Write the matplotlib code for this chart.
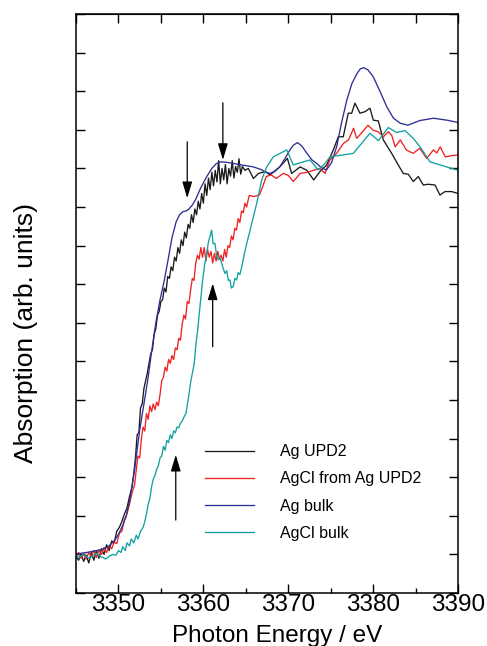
import numpy as np
import matplotlib
matplotlib.use('Agg')
import matplotlib.pyplot as plt
from matplotlib.ticker import MultipleLocator

plt.rcParams['font.family'] = ['Liberation Sans', 'DejaVu Sans']

# Ag UPD2 (black)
ag_upd2_e = [3345.0, 3345.3, 3345.6, 3345.9, 3346.2, 3346.5, 3346.8, 3347.1, 3347.4, 3347.7,
             3348.0, 3348.3, 3348.6, 3348.9, 3349.2, 3349.5, 3349.8, 3350.1, 3350.4, 3350.7,
             3351.0, 3351.3, 3351.6, 3351.8, 3352.0, 3352.2, 3352.4, 3352.6, 3352.8, 3353.0,
             3353.2, 3353.4, 3353.6, 3353.8, 3354.0, 3354.2, 3354.4, 3354.6, 3354.8, 3355.0,
             3355.2, 3355.4, 3355.6, 3355.8, 3356.0, 3356.2, 3356.4, 3356.6, 3356.8, 3357.0,
             3357.2, 3357.4, 3357.6, 3357.8, 3358.0, 3358.2, 3358.4, 3358.6, 3358.8, 3359.0,
             3359.2, 3359.4, 3359.6, 3359.8, 3360.0, 3360.2, 3360.4, 3360.6, 3360.8, 3361.0,
             3361.2, 3361.4, 3361.6, 3361.8, 3362.0, 3362.2, 3362.4, 3362.6, 3362.8, 3363.0,
             3363.2, 3363.4, 3363.6, 3363.8, 3364.0, 3364.2, 3364.4, 3364.6, 3364.9, 3365.3,
             3365.9, 3366.5, 3367.3, 3367.85, 3369.0, 3369.9, 3370.4, 3371.4, 3372.2, 3373.0,
             3373.74, 3374.53, 3375.31, 3375.9, 3376.48, 3377.07, 3377.47, 3377.86, 3378.45, 3379.04,
             3379.63, 3380.02, 3380.61, 3381.2, 3382.18, 3382.96, 3383.55, 3384.14, 3384.73, 3385.32,
             3385.91, 3386.5, 3387.29, 3387.87, 3388.46, 3389.25, 3390.0]
ag_upd2_y = [0.95, 0.85, 1.0, 0.82, 0.98, 0.78, 1.05, 0.85, 1.1, 0.9,
             1.15, 1.0, 1.25, 1.1, 1.35, 1.3, 1.6, 1.7, 1.85, 2.05,
             2.2, 2.5, 2.75, 3.1, 3.5, 4.1, 4.15, 4.8, 4.9, 5.3,
             5.5, 5.7, 5.95, 6.2, 6.3, 6.7, 6.85, 7.2, 7.3, 7.55,
             7.6, 7.9, 7.8, 8.2, 8.15, 8.45, 8.35, 8.7, 8.6, 8.95,
             8.8, 9.15, 9.0, 9.35, 9.2, 9.55, 9.45, 9.8, 9.6, 9.95,
             9.8, 10.15, 9.95, 10.35, 10.1, 10.6, 10.3, 10.75, 10.45, 10.9,
             10.55, 10.95, 10.65, 11.2, 10.6, 11.0, 10.7, 11.1, 10.6, 11.0,
             10.8, 11.2, 10.75, 11.05, 10.9, 11.25, 10.85, 11.05, 10.95, 11.0,
             10.74, 10.87, 10.92, 10.83, 11.04, 11.26, 10.87, 11.04, 10.95, 10.70,
             10.92, 11.09, 11.48, 11.82, 11.82, 12.43, 12.43, 12.69, 12.43, 12.47,
             12.56, 12.25, 12.23, 11.74, 11.39, 11.09, 10.87, 10.85, 10.66, 10.79,
             10.57, 10.59, 10.57, 10.31, 10.40, 10.40, 10.35]

# AgCl from Ag UPD2 (red)
agcl_upd2_e = [3345.0, 3345.3, 3345.6, 3345.9, 3346.2, 3346.5, 3346.8, 3347.1, 3347.4, 3347.7,
               3348.0, 3348.3, 3348.6, 3348.9, 3349.2, 3349.5, 3349.8, 3350.1, 3350.4, 3350.7,
               3351.0, 3351.3, 3351.6, 3351.9, 3352.1, 3352.3, 3352.5, 3352.7, 3352.9, 3353.1,
               3353.3, 3353.5, 3353.7, 3353.9, 3354.1, 3354.3, 3354.5, 3354.7, 3354.9, 3355.1,
               3355.3, 3355.5, 3355.7, 3355.9, 3356.1, 3356.3, 3356.5, 3356.7, 3356.9, 3357.1,
               3357.3, 3357.5, 3357.7, 3357.9, 3358.1, 3358.3, 3358.5, 3358.7, 3358.9, 3359.1,
               3359.3, 3359.5, 3359.7, 3359.9, 3360.1, 3360.3, 3360.5, 3360.7, 3360.9, 3361.1,
               3361.3, 3361.5, 3361.7, 3361.9, 3362.1, 3362.3, 3362.5, 3362.7, 3362.9, 3363.1,
               3363.3, 3363.5, 3363.7, 3363.9, 3364.1, 3364.3, 3364.5, 3364.7, 3364.9, 3365.1,
               3365.4, 3365.9, 3366.6, 3367.0, 3367.4, 3368.0, 3368.6, 3369.4, 3370.0, 3370.6,
               3371.4, 3372.2, 3373.1, 3373.74, 3374.33, 3374.9, 3375.7, 3376.5, 3377.1, 3377.7,
               3378.06, 3378.6, 3379.4, 3380.0, 3380.6, 3381.2, 3381.8, 3382.2, 3382.6, 3383.2,
               3383.9, 3384.7, 3385.5, 3386.3, 3387.1, 3387.5, 3387.9, 3388.5, 3389.2, 3390.0]
agcl_upd2_y = [0.98, 1.05, 0.9, 1.02, 0.88, 1.05, 0.95, 1.1, 0.92, 1.12,
               1.0, 1.18, 1.05, 1.22, 1.15, 1.32, 1.28, 1.55, 1.6, 1.9,
               2.05, 2.3, 2.6, 2.8, 3.2, 3.55, 3.5, 4.0, 4.3, 4.2,
               4.65, 4.5, 4.85, 4.7, 4.9, 4.75, 4.95, 4.85, 5.15, 5.5,
               5.6, 5.85, 5.75, 6.05, 5.95, 6.15, 6.05, 6.35, 6.3, 6.6,
               6.55, 6.95, 7.2, 7.1, 7.55, 7.5, 7.85, 8.15, 8.1, 8.55,
               8.75, 8.65, 8.95, 8.7, 8.95, 8.6, 8.9, 8.7, 8.85, 8.55,
               8.8, 8.6, 8.85, 8.65, 8.75, 8.6, 8.9, 8.7, 9.0, 8.95,
               9.25, 9.15, 9.45, 9.4, 9.7, 9.6, 9.9, 9.85, 10.1, 10.0,
               10.3, 10.27, 10.31, 10.53, 10.79, 10.83, 10.74, 10.87, 10.82, 10.66,
               10.87, 10.9, 10.96, 11.0, 10.87, 11.22, 11.39, 11.65, 11.74, 12.04,
               11.78, 11.91, 12.12, 11.99, 11.95, 11.82, 11.95, 11.85, 11.56, 11.74,
               11.48, 11.39, 11.52, 11.26, 11.48, 11.40, 11.56, 11.30, 11.33, 11.35]

# Ag bulk (blue)
ag_bulk_e = [3345.0, 3346.5, 3347.9, 3348.8, 3349.5, 3350.0, 3350.5, 3350.9, 3351.4, 3351.9,
             3352.5, 3353.0, 3353.45, 3353.9, 3354.4, 3354.9, 3355.4, 3355.9, 3356.3, 3356.8,
             3357.2, 3357.6, 3358.0, 3358.3, 3358.7, 3359.1, 3359.7, 3360.4, 3361.0, 3361.5,
             3362.0, 3362.7, 3363.5, 3364.5, 3365.9, 3366.8, 3367.4, 3367.85, 3368.4, 3369.0,
             3369.6, 3370.2, 3370.6, 3371.1, 3371.6, 3372.2, 3372.8, 3373.35, 3373.9, 3374.5,
             3375.1, 3375.7, 3376.3, 3376.9, 3377.5, 3378.1, 3378.5, 3378.9, 3379.4, 3380.0,
             3380.8, 3381.6, 3382.4, 3383.2, 3384.1, 3385.5, 3387.1, 3388.7, 3390.0]
ag_bulk_y = [1.01, 1.06, 1.12, 1.2, 1.35, 1.52, 1.75, 1.98, 2.5, 3.19,
             4.22, 4.9, 5.52, 6.25, 7.0, 7.6, 8.1, 8.7, 9.2, 9.62,
             9.8, 9.88, 9.9, 9.95, 10.05, 10.2, 10.5, 10.79, 11.0, 11.12,
             11.17, 11.16, 11.13, 11.09, 11.04, 10.97, 10.9, 10.87, 10.92, 11.04,
             11.25, 11.48, 11.6, 11.67, 11.58, 11.39, 11.22, 11.13, 11.02, 10.96,
             11.15, 11.56, 12.2, 12.77, 13.2, 13.46, 13.58, 13.61, 13.55, 13.38,
             13.0, 12.6, 12.3, 12.17, 12.12, 12.24, 12.30, 12.25, 12.19]

# AgCl bulk (teal)
agcl_bulk_e = [3345.0, 3345.4, 3345.8, 3346.2, 3346.6, 3347.0, 3347.4, 3347.8, 3348.2, 3348.5,
               3348.9, 3349.3, 3349.7, 3350.0, 3350.3, 3350.5, 3350.8, 3351.0, 3351.3, 3351.5,
               3351.8, 3352.1, 3352.3, 3352.6, 3352.9, 3353.1, 3353.3, 3353.5, 3353.7, 3353.9,
               3354.1, 3354.3, 3354.5, 3354.7, 3354.9, 3355.1, 3355.3, 3355.5, 3355.7, 3355.9,
               3356.1, 3356.3, 3356.5, 3356.7, 3356.9, 3357.1, 3357.3, 3357.5, 3357.7, 3357.96,
               3358.2, 3358.55, 3358.93, 3359.15, 3359.33, 3359.6, 3359.92, 3360.15, 3360.39, 3360.6,
               3360.8, 3360.98, 3361.15, 3361.37, 3361.55, 3361.76, 3361.95, 3362.16, 3362.35, 3362.55,
               3362.75, 3362.95, 3363.14, 3363.3, 3363.53, 3363.7, 3363.93, 3364.1, 3364.3, 3364.52,
               3364.8, 3365.11, 3365.4, 3365.69, 3366.28, 3366.87, 3367.46, 3368.24, 3369.03, 3369.82,
               3370.6, 3371.77, 3372.56, 3373.54, 3374.33, 3374.92, 3377.66, 3379.63, 3380.61, 3381.79,
               3382.77, 3383.75, 3384.73, 3385.52, 3386.7, 3390.0]
agcl_bulk_y = [0.98, 0.92, 1.0, 0.95, 0.9, 0.97, 1.03, 0.95, 0.92, 0.88,
               0.95, 1.0, 0.98, 1.1, 1.05, 1.2, 1.1, 1.3, 1.22, 1.4,
               1.3, 1.5, 1.4, 1.6, 1.7, 1.85, 2.05, 2.3, 2.45, 2.75,
               2.95, 3.05, 3.2, 3.3, 3.5, 3.55, 3.8, 3.7, 3.95, 3.9,
               4.1, 4.0, 4.2, 4.15, 4.3, 4.28, 4.4, 4.45, 4.55, 4.66,
               5.0, 5.52, 5.95, 6.5, 6.81, 7.42, 8.11, 8.5, 8.8, 9.1,
               9.25, 9.4, 9.05, 9.06, 8.75, 8.63, 8.7, 8.54, 8.4, 8.28,
               8.35, 8.1, 8.11, 7.9, 7.94, 8.15, 8.11, 8.3, 8.25, 8.45,
               8.75, 9.06, 9.3, 9.57, 10.09, 10.70, 11.04, 11.30, 11.39, 11.48,
               11.09, 11.17, 11.22, 10.96, 11.13, 11.30, 11.39, 11.91, 11.72, 12.06,
               11.93, 11.98, 11.78, 11.56, 11.17, 10.95]

labels = ['Ag UPD2', 'AgCl from Ag UPD2', 'Ag bulk', 'AgCl bulk']
colors = ['#1a1a1a', '#ee2222', '#2e2e96', '#13a0a0']

# arrows: (energy, tail, tip)
arrows = [(3358.1, 11.69, 10.23),
          (3362.3, 12.70, 11.22),
          (3361.1, 6.38, 8.02),
          (3356.75, 1.89, 3.58)]

fig = plt.figure(figsize=(4.87, 6.46), dpi=100)
ax = fig.add_axes([0.1561, 0.0820, 0.7844, 0.8963])

series = [(ag_upd2_e, ag_upd2_y), (agcl_upd2_e, agcl_upd2_y),
          (ag_bulk_e, ag_bulk_y), (agcl_bulk_e, agcl_bulk_y)]
for (e, y), lab, c in zip(series, labels, colors):
    ax.plot(e, y, color=c, lw=0.95, label=lab)

for e, y0, y1 in arrows:
    ax.annotate('', xy=(e, y1), xytext=(e, y0),
                arrowprops=dict(arrowstyle='-|>,head_length=0.5,head_width=0.15',
                                color='black', lw=0.9, mutation_scale=20,
                                shrinkA=0, shrinkB=0))

ax.set_xlim(3345, 3390)
ax.set_ylim(0, 15)
ax.xaxis.set_major_locator(MultipleLocator(10))
ax.xaxis.set_minor_locator(MultipleLocator(5))
ax.yaxis.set_major_locator(MultipleLocator(1))
ax.set_yticklabels([])
ax.tick_params(which='major', direction='in', length=6.5, width=1, right=True, top=False,
               labelsize=17.5, pad=0.5)
ax.tick_params(which='minor', direction='in', length=3.5, width=1, top=False)
top = ax.secondary_xaxis('top')
top.set_xticks(np.arange(3345, 3391, 5))
top.tick_params(direction='in', length=6.5, width=1, labeltop=False)
for s in ax.spines.values():
    s.set_linewidth(1.1)

ax.set_xlabel('Photon Energy / eV', fontsize=17.5)
ax.xaxis.set_label_coords(0.526, -0.056)
ax.set_ylabel('Absorption (arb. units)', fontsize=19)
ax.yaxis.set_label_coords(-0.100, 0.449)

ax.legend(loc='upper left', bbox_to_anchor=(0.338, 0.257), frameon=False,
          fontsize=11.5, handlelength=3.06, handletextpad=1.65, labelspacing=0.76,
          borderpad=0, borderaxespad=0)

fig.savefig('out.png', dpi=100)
